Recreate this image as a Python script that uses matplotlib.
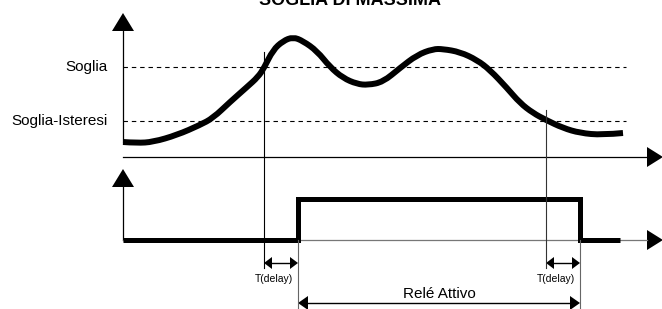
import matplotlib
matplotlib.use("Agg")
import matplotlib.pyplot as plt
from matplotlib.path import Path
from matplotlib.patches import PathPatch

plt.rcParams['font.family'] = ['Liberation Sans', 'DejaVu Sans']

# diagram drawn in picture units: x = time, y = level (grows downward)
curve_x = [123, 137, 153, 177, 200, 213, 230, 247, 258, 264, 273, 283, 293,
           303, 317, 330, 343, 357, 368, 383, 400, 417, 433, 443, 460, 477,
           490, 507, 520, 533, 546, 563, 580, 602, 623]
curve_y = [142, 143, 142, 135, 125, 118, 102, 87, 77, 68, 50, 41, 37,
           41, 51, 67, 78, 84, 85, 82, 68, 55, 49, 49, 52, 60,
           70, 88, 103, 113, 120, 128, 133, 135, 133]

soglia = 67
isteresi = 121
level_labels = ["Soglia", "Soglia-Isteresi"]

t_cross_on = 264      # curve goes above Soglia
t_cross_off = 546     # curve goes below Soglia-Isteresi
t_delay = 34
relay_t = [123, t_cross_on + t_delay, t_cross_on + t_delay,
           t_cross_off + t_delay, t_cross_off + t_delay, 620]
relay_y = [240, 240, 199, 199, 240, 240]

x0, x_end = 123, 647
axis_top_y = 157
axis_bot_y = 240

fig = plt.figure(figsize=(6.62, 3.09), dpi=100)
ax = fig.add_axes([0, 0, 1, 1])
ax.set_xlim(0, 662)
ax.set_ylim(309, 0)
ax.axis('off')


def head(x, y, direction, length, half):
    # filled triangular arrow head, tip at (x, y)
    if direction == 'up':
        pts = [(x, y), (x - half, y + length), (x + half, y + length)]
    elif direction == 'right':
        pts = [(x, y), (x - length, y - half), (x - length, y + half)]
    else:
        pts = [(x, y), (x + length, y - half), (x + length, y + half)]
    xs, ys = zip(*pts)
    ax.fill(xs, ys, color='black', lw=0)


# upper panel axes
ax.plot([x0, x0], [31, 142], color='black', lw=0.9)
head(x0, 13, 'up', 18, 11)
ax.plot([x0, x_end], [axis_top_y, axis_top_y], color='black', lw=0.9)
head(663, axis_top_y, 'right', 16, 10)

# thresholds
for lev, lab in zip([soglia, isteresi], level_labels):
    ax.plot([x0, 626], [lev, lev], color='black', lw=0.8, dashes=(4, 3.5))
    ax.text(108, lev, lab, ha='right', va='center', fontsize=11)

# signal, drawn as a smooth quadratic path through the read points
pts = list(zip(curve_x, curve_y))
verts = [pts[0]]
codes = [Path.MOVETO]
for i in range(1, len(pts) - 1):
    nxt = pts[i + 1] if i + 1 < len(pts) - 1 else pts[-1]
    mid = ((pts[i][0] + nxt[0]) / 2, (pts[i][1] + nxt[1]) / 2)
    if i + 1 == len(pts) - 1:
        mid = pts[-1]
    verts += [pts[i], mid]
    codes += [Path.CURVE3, Path.CURVE3]
ax.add_patch(PathPatch(Path(verts, codes), fill=False, color='black',
                       lw=4.3, capstyle='butt', joinstyle='round'))

# lower panel axes
ax.plot([x0, x0], [187, axis_bot_y], color='black', lw=0.9)
head(x0, 169, 'up', 18, 11)
ax.plot([x0, x_end], [axis_bot_y, axis_bot_y], color='#777777', lw=0.9)
head(663, axis_bot_y, 'right', 16, 10)

# relay state
ax.plot(relay_t, relay_y, color='black', lw=3.6, solid_capstyle='butt',
        solid_joinstyle='miter')

# time markers
ax.plot([t_cross_on, t_cross_on], [52, 268], color='black', lw=0.8)
ax.plot([t_cross_off, t_cross_off], [110, 268], color='#333333', lw=0.8)
for t in [t_cross_on + t_delay, t_cross_off + t_delay]:
    ax.plot([t, t], [axis_bot_y, 309], color='#666666', lw=0.8)

# delay arrows
for t in [t_cross_on, t_cross_off]:
    ax.plot([t + 7, t + t_delay - 7], [263, 263], color='black', lw=1.0)
    head(t, 263, 'left', 8, 6)
    head(t + t_delay, 263, 'right', 8, 6)
    ax.text(t + 10, 279, "T(delay)", ha='center', va='center', fontsize=7.5)

# relay active span
t1, t2 = t_cross_on + t_delay, t_cross_off + t_delay
ax.plot([t1 + 8, t2 - 8], [303, 303], color='black', lw=1.0)
head(t1, 303, 'left', 10, 7)
head(t2, 303, 'right', 10, 7)
ax.text((t1 + t2) / 2, 294, "Relé Attivo", ha='center', va='center',
        fontsize=11)

ax.text(350, 5, "SOGLIA DI MASSIMA", ha='center', va='baseline',
        fontsize=13, fontweight='bold')

fig.savefig("out.png", dpi=100)
